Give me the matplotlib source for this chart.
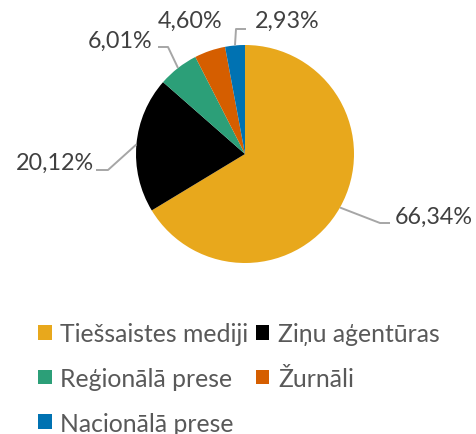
import matplotlib
matplotlib.use("Agg")
import matplotlib.pyplot as plt
from matplotlib.patches import Patch
import numpy as np

categories = ["Tiešsaistes mediji", "Ziņu aģentūras", "Reģionālā prese", "Žurnāli", "Nacionālā prese"]
values = [66.34, 20.12, 6.01, 4.60, 2.93]
labels = ["66,34%", "20,12%", "6,01%", "4,60%", "2,93%"]
colors = ["#E8A81C", "#000000", "#2C9F78", "#D55E00", "#0072B2"]

plt.rcParams['font.family'] = ['Lato', 'DejaVu Sans']

W, H = 477, 435
fig = plt.figure(figsize=(W / 100, H / 100), dpi=100)
ax = fig.add_axes([0, 0, 1, 1])
cx, cy, R = 245, 155, 109

wedges, _ = ax.pie(values, colors=colors, startangle=90, counterclock=False,
                   radius=1, wedgeprops=dict(linewidth=0))
ax.set_aspect('auto')
ax.set_xlim(-cx / R, (W - cx) / R)
ax.set_ylim(-(H - cy) / R, cy / R)
ax.axis('off')

def px(x, y):
    return ((x - cx) / R, (cy - y) / R)

FS = 16.8
LFS = 17.8
label_pos = [(434, 217), (55, 163), (120, 41), (190, 21), (287, 21)]
elbows = [[(380, 224), (390, 224)], [(108, 171), (96, 171)], [(168, 48), (158, 48)], None, [(236, 30), (246, 30)]]
lc = "#A6A6A6"
for w, lab, pos, elb in zip(wedges, labels, label_pos, elbows):
    ang = np.deg2rad((w.theta1 + w.theta2) / 2)
    ex, ey = np.cos(ang), np.sin(ang)
    if elb is not None:
        pts = [(ex, ey)] + [px(*p) for p in elb]
        xs, ys = zip(*pts)
        ax.plot(xs, ys, color=lc, lw=1.4, clip_on=False, solid_capstyle='butt')
    tx, ty = px(*pos)
    ax.text(tx, ty, lab, ha='center', va='center', fontsize=FS, color='#404040')

order = [0, 2, 4, 1, 3]
handles = [Patch(facecolor=colors[i], edgecolor='none') for i in order]
leg = fig.legend(handles, [categories[i] for i in order], ncol=2,
                 loc='upper left', bbox_to_anchor=(38 / W, 1 - 323 / H),
                 frameon=False, fontsize=LFS, handlelength=0.55, handleheight=0.55,
                 handletextpad=0.35, labelspacing=0.88, columnspacing=0.3,
                 borderaxespad=0, borderpad=0)
for t in leg.get_texts():
    t.set_color('#595959')

fig.savefig("out.png", dpi=100)
